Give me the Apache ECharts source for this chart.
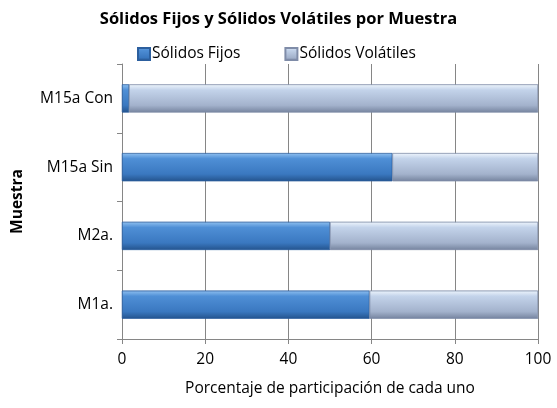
<!DOCTYPE html>
<html>
<head>
<meta charset="utf-8">
<script src="https://cdn.jsdelivr.net/npm/echarts@6/dist/echarts.min.js"></script>
<style>
html,body{margin:0;padding:0;background:#fff;}
#main{width:557px;height:408px;}
</style>
</head>
<body>
<div id="main"></div>
<script>
// datos
var muestras = ['M1a.', 'M2a.', 'M15a Sin', 'M15a Con'];
var fijos = [59.5, 50, 65, 1.7];
var volatiles = [40.5, 50, 35, 98.3];
var ticksX = [0, 20, 40, 60, 80, 100];

var fuente = 'Open Sans';

var chart = echarts.init(document.getElementById('main'));

function grad(c1, c2, c3, c4) {
	return new echarts.graphic.LinearGradient(0, 0, 0, 1, [
		{offset: 0, color: c1},
		{offset: 0.2, color: c2},
		{offset: 0.75, color: c3},
		{offset: 1, color: c4}
	]);
}

var option = {
	backgroundColor: '#fff',
	textStyle: {fontFamily: fuente},
	title: {
		text: 'Sólidos Fijos y Sólidos Volátiles por Muestra',
		left: 'center',
		top: 6,
		textStyle: {fontSize: 16.5, fontWeight: 'bold', color: '#000', fontFamily: fuente}
	},
	legend: {
		top: 41,
		left: 132,
		itemGap: 44,
		itemWidth: 12,
		itemHeight: 12,
		icon: 'rect',
		textStyle: {fontSize: 15.5, color: '#000', padding: [0, 0, 0, -3]},
		data: ['Sólidos Fijos', 'Sólidos Volátiles']
	},
	grid: {left: 122, right: 19, top: 64, bottom: 69, containLabel: false, outerBoundsMode: 'none'},
	xAxis: {
		type: 'value',
		min: 0, max: 100, interval: 20,
		name: 'Porcentaje de participación de cada uno',
		nameLocation: 'middle',
		nameGap: 42,
		nameTextStyle: {fontSize: 15.5, color: '#000'},
		axisLine: {show: true, lineStyle: {color: '#868686'}},
		axisTick: {show: true, length: 5, lineStyle: {color: '#868686'}},
		axisLabel: {fontSize: 15.5, color: '#000', margin: 13,
			formatter: function (v) { return ticksX.indexOf(v) >= 0 ? v : ''; }},
		splitLine: {show: true, lineStyle: {color: '#868686', width: 1}}
	},
	yAxis: {
		type: 'category',
		data: muestras,
		name: 'Muestra',
		nameLocation: 'middle',
		nameGap: 96,
		nameTextStyle: {fontSize: 15.5, fontWeight: 'bold', color: '#000'},
		axisLine: {show: true, lineStyle: {color: '#868686'}},
		axisTick: {show: true, length: 5, inside: false, lineStyle: {color: '#868686'}},
		axisLabel: {fontSize: 15.5, color: '#000', margin: 9}
	},
	series: [{
		name: 'Sólidos Fijos',
		type: 'bar',
		stack: 'total',
		barWidth: 28,
		data: fijos,
		itemStyle: {
			color: grad('#8fc0f0', '#4f8fd6', '#3a78c0', '#24548e'),
			borderColor: '#2c5f9e',
			borderWidth: 0.5
		}
	}, {
		name: 'Sólidos Volátiles',
		type: 'bar',
		stack: 'total',
		barWidth: 28,
		data: volatiles,
		itemStyle: {
			color: grad('#eef5fd', '#c3d3ea', '#a3b2cc', '#76849f'),
			borderColor: '#7f8ca8',
			borderWidth: 0.5
		}
	}]
};

chart.setOption(option);
</script>
</body>
</html>
